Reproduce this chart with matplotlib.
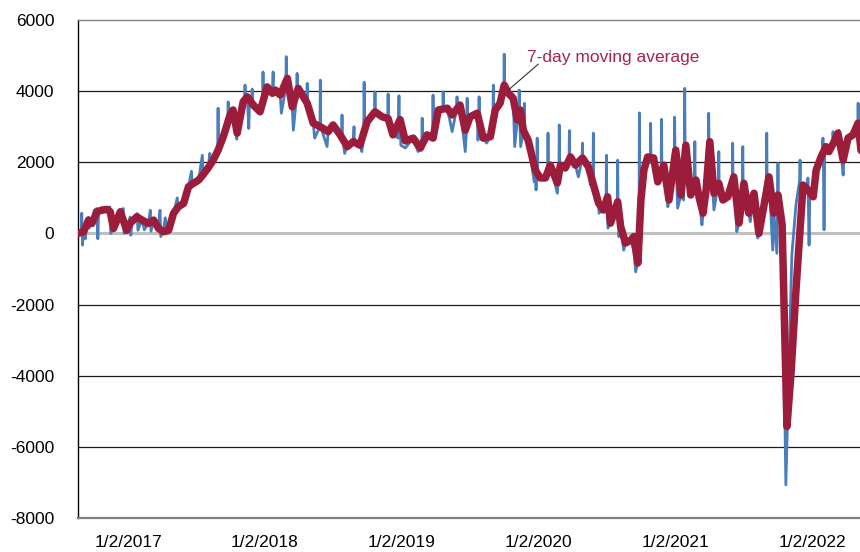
import matplotlib
matplotlib.use('Agg')
import matplotlib.pyplot as plt
import pandas as pd

# 7-day moving average
red_dates = [
    '2016-08-21', '2016-09-05', '2016-09-18', '2016-09-27', '2016-10-11', '2016-10-24',
    '2016-11-06', '2016-11-15', '2016-11-24', '2016-12-12', '2016-12-29',
    '2017-01-07', '2017-01-25', '2017-02-08', '2017-02-25', '2017-03-11', '2017-03-24',
    '2017-04-06', '2017-04-20', '2017-05-03', '2017-05-16', '2017-05-30', '2017-06-12',
    '2017-06-25', '2017-07-09', '2017-07-21', '2017-08-04', '2017-08-17', '2017-08-30',
    '2017-09-13', '2017-10-01', '2017-10-09', '2017-10-20', '2017-11-05', '2017-11-16',
    '2017-12-02', '2017-12-20',
    '2018-01-08', '2018-01-22', '2018-01-30', '2018-02-12', '2018-03-03', '2018-03-16',
    '2018-04-01', '2018-04-25', '2018-05-11', '2018-05-30', '2018-06-20', '2018-07-03',
    '2018-07-22', '2018-08-10', '2018-08-26', '2018-09-13', '2018-10-02', '2018-10-23',
    '2018-11-11', '2018-11-27', '2018-12-10', '2018-12-29',
    '2019-01-12', '2019-02-02', '2019-02-21', '2019-03-11', '2019-03-27', '2019-04-10',
    '2019-05-04', '2019-05-17', '2019-06-07', '2019-06-21', '2019-07-04', '2019-07-23',
    '2019-08-08', '2019-08-27', '2019-09-09', '2019-09-22', '2019-10-03', '2019-10-14',
    '2019-10-27', '2019-11-07', '2019-11-15', '2019-11-23', '2019-12-06', '2019-12-25',
    '2020-01-07', '2020-01-21', '2020-02-03', '2020-02-22', '2020-03-01', '2020-03-14',
    '2020-03-28', '2020-04-10', '2020-04-29', '2020-05-15', '2020-05-26', '2020-06-11',
    '2020-06-24', '2020-07-05', '2020-07-13', '2020-08-01', '2020-08-09', '2020-08-22',
    '2020-09-05', '2020-09-13', '2020-09-24', '2020-10-02', '2020-10-10', '2020-10-20',
    '2020-11-05', '2020-11-16', '2020-12-02', '2020-12-16',
    '2021-01-03', '2021-01-17', '2021-01-30', '2021-02-12', '2021-02-26', '2021-03-06',
    '2021-03-17', '2021-03-25', '2021-04-04', '2021-04-15', '2021-04-28', '2021-05-09',
    '2021-05-22', '2021-06-07', '2021-06-21', '2021-07-04', '2021-07-17', '2021-07-31',
    '2021-08-13', '2021-08-26', '2021-09-09', '2021-09-22', '2021-10-03', '2021-10-14',
    '2021-10-27', '2021-11-07', '2021-11-20', '2021-12-01', '2021-12-09', '2021-12-22',
    '2022-01-05', '2022-01-13', '2022-01-26', '2022-02-08', '2022-02-16', '2022-03-02',
    '2022-03-12', '2022-03-26', '2022-04-08', '2022-04-21', '2022-05-05', '2022-05-13',
]
red_values = [
    0, 50, 375, 280, 610, 656,
    675, 610, 140, 609, 90,
    281, 469, 375, 281, 375, 141,
    47, 90, 563, 750, 843, 1313,
    1407, 1500, 1650, 1850, 2060, 2340,
    2720, 3330, 3470, 2820, 3700, 3840,
    3610, 3420,
    4120, 3940, 4030, 3890, 4360, 3560,
    4080, 3660, 3100, 3000, 2860, 3050,
    2770, 2440, 2580, 2480, 3140, 3420,
    3280, 3230, 2770, 3200,
    2600, 2680, 2400, 2770, 2680, 3470,
    3520, 3330, 3610, 2900, 3280, 3380,
    2680, 2720, 3470, 3660, 4170, 3940,
    3800, 3190, 3470, 2900, 2620, 1780,
    1560, 1560, 1920, 1420, 1920, 1840,
    2150, 1920, 2120, 1870, 1450, 850,
    660, 1030, 290, 890, 190, -270,
    -190, -90, -830, 940, 1780, 2150,
    2120, 1450, 1920, 940,
    2340, 1080, 2480, 1080, 1500, 1030,
    570, 1220, 2580, 1130, 1410, 940,
    1030, 1590, 290, 1410, 570, 1130,
    0, 750, 1590, 570, 1080, 250,
    -5430, -3900, -1600, 100, 1360, 1220,
    1030, 1780, 2150, 2440, 2300, 2580,
    2820, 2060, 2680, 2770, 3100, 2300,
]

# daily values
blue_dates = [
    '2016-08-21', '2016-08-30', '2016-08-31', '2016-09-02', '2016-09-05', '2016-09-10',
    '2016-09-12', '2016-09-18', '2016-09-20', '2016-09-27', '2016-10-03', '2016-10-10',
    '2016-10-13', '2016-10-15', '2016-10-24', '2016-11-06', '2016-11-14', '2016-11-17',
    '2016-11-20', '2016-11-24', '2016-12-01', '2016-12-12', '2016-12-20', '2016-12-22',
    '2016-12-29',
    '2017-01-07', '2017-01-09', '2017-01-12', '2017-01-25', '2017-01-26', '2017-01-28',
    '2017-02-08', '2017-02-14', '2017-02-25', '2017-03-02', '2017-03-04', '2017-03-11',
    '2017-03-24', '2017-03-28', '2017-03-30', '2017-04-06', '2017-04-11', '2017-04-13',
    '2017-04-20', '2017-05-03', '2017-05-13', '2017-05-16', '2017-05-30', '2017-06-12',
    '2017-06-20', '2017-06-22', '2017-06-25', '2017-07-09', '2017-07-19', '2017-07-21',
    '2017-08-04', '2017-08-08', '2017-08-10', '2017-08-17', '2017-08-29', '2017-08-30',
    '2017-08-31', '2017-09-13', '2017-09-25', '2017-09-26', '2017-09-27', '2017-10-01',
    '2017-10-09', '2017-10-19', '2017-10-20', '2017-11-05', '2017-11-09', '2017-11-10',
    '2017-11-11', '2017-11-16', '2017-11-20', '2017-11-22', '2017-11-28', '2017-11-29',
    '2017-11-30', '2017-12-02', '2017-12-20', '2017-12-27', '2017-12-28', '2017-12-29',
    '2018-01-08', '2018-01-22', '2018-01-24', '2018-01-25', '2018-01-30', '2018-02-12',
    '2018-02-15', '2018-02-27', '2018-02-28', '2018-03-01', '2018-03-03', '2018-03-16',
    '2018-03-19', '2018-03-28', '2018-03-29', '2018-03-30', '2018-04-01', '2018-04-24',
    '2018-04-25', '2018-04-26', '2018-05-11', '2018-05-15', '2018-05-29', '2018-05-30',
    '2018-05-31', '2018-06-17', '2018-06-20', '2018-07-03', '2018-07-22', '2018-07-26',
    '2018-07-27', '2018-07-28', '2018-08-03', '2018-08-10', '2018-08-26', '2018-08-28',
    '2018-08-29', '2018-09-13', '2018-09-18', '2018-09-23', '2018-09-24', '2018-09-25',
    '2018-10-02', '2018-10-22', '2018-10-23', '2018-10-24', '2018-11-11', '2018-11-26',
    '2018-11-27', '2018-11-28', '2018-12-10', '2018-12-24', '2018-12-26', '2018-12-27',
    '2018-12-29', '2018-12-31',
    '2019-01-12', '2019-02-02', '2019-02-15', '2019-02-21', '2019-02-25', '2019-02-26',
    '2019-02-27', '2019-03-11', '2019-03-26', '2019-03-27', '2019-03-28', '2019-04-10',
    '2019-04-22', '2019-04-23', '2019-04-24', '2019-05-04', '2019-05-17', '2019-05-29',
    '2019-05-30', '2019-05-31', '2019-06-07', '2019-06-21', '2019-06-25', '2019-06-26',
    '2019-06-27', '2019-07-04', '2019-07-23', '2019-07-25', '2019-07-27', '2019-07-28',
    '2019-07-29', '2019-08-08', '2019-08-17', '2019-08-27', '2019-09-03', '2019-09-04',
    '2019-09-05', '2019-09-09', '2019-09-22', '2019-10-02', '2019-10-03', '2019-10-04',
    '2019-10-14', '2019-10-27', '2019-10-31', '2019-11-07', '2019-11-11', '2019-11-12',
    '2019-11-13', '2019-11-16', '2019-11-23', '2019-11-25', '2019-11-26', '2019-11-27',
    '2019-12-06', '2019-12-22', '2019-12-25', '2019-12-27', '2019-12-29', '2019-12-30',
    '2019-12-31',
    '2020-01-07', '2020-01-21', '2020-01-27', '2020-01-28', '2020-01-29', '2020-02-03',
    '2020-02-22', '2020-02-26', '2020-02-27', '2020-02-28', '2020-03-01', '2020-03-14',
    '2020-03-24', '2020-03-25', '2020-03-26', '2020-03-28', '2020-04-10', '2020-04-18',
    '2020-04-28', '2020-04-29', '2020-04-30', '2020-05-15', '2020-05-20', '2020-05-26',
    '2020-05-27', '2020-05-28', '2020-05-29', '2020-06-11', '2020-06-12', '2020-06-24',
    '2020-07-01', '2020-07-02', '2020-07-03', '2020-07-06', '2020-07-13', '2020-07-31',
    '2020-08-01', '2020-08-02', '2020-08-04', '2020-08-09', '2020-08-17', '2020-08-22',
    '2020-09-05', '2020-09-13', '2020-09-18', '2020-09-24', '2020-09-27', '2020-09-28',
    '2020-09-29', '2020-10-02', '2020-10-10', '2020-10-20', '2020-10-27', '2020-10-28',
    '2020-10-29', '2020-11-05', '2020-11-16', '2020-11-25', '2020-11-26', '2020-11-27',
    '2020-12-02', '2020-12-13', '2020-12-16', '2020-12-30', '2020-12-31',
    '2021-01-01', '2021-01-03', '2021-01-08', '2021-01-17', '2021-01-24', '2021-01-26',
    '2021-01-27', '2021-01-28', '2021-01-30', '2021-02-12', '2021-02-22', '2021-02-23',
    '2021-02-24', '2021-02-26', '2021-03-06', '2021-03-14', '2021-03-17', '2021-03-25',
    '2021-03-31', '2021-04-01', '2021-04-02', '2021-04-04', '2021-04-15', '2021-04-27',
    '2021-04-28', '2021-04-29', '2021-05-09', '2021-05-22', '2021-06-03', '2021-06-04',
    '2021-06-05', '2021-06-07', '2021-06-15', '2021-06-21', '2021-06-30', '2021-07-01',
    '2021-07-02', '2021-07-04', '2021-07-21', '2021-07-31', '2021-08-10', '2021-08-13',
    '2021-08-26', '2021-09-02', '2021-09-03', '2021-09-04', '2021-09-09', '2021-09-19',
    '2021-09-22', '2021-09-30', '2021-10-02', '2021-10-03', '2021-10-04', '2021-10-14',
    '2021-10-15', '2021-10-24', '2021-11-09', '2021-11-20', '2021-11-30', '2021-12-01',
    '2021-12-02', '2021-12-09', '2021-12-21', '2021-12-22', '2021-12-25', '2021-12-27',
    '2022-01-05', '2022-01-13', '2022-01-26', '2022-01-30', '2022-01-31', '2022-02-01',
    '2022-02-03', '2022-02-05', '2022-02-08', '2022-02-16', '2022-02-26', '2022-02-27',
    '2022-02-28', '2022-03-02', '2022-03-12', '2022-03-15', '2022-03-26', '2022-03-28',
    '2022-04-08', '2022-04-21', '2022-05-04', '2022-05-05', '2022-05-06', '2022-05-13',
]
blue_values = [
    0, 100, 570, -330, 100, -150,
    300, 450, 150, 300, 650, 700,
    -150, 600, 700, 650, 750, 0,
    400, 150, 450, 650, 700, 0,
    150,
    460, -50, 300, 450, 560, 90,
    400, 100, 300, 650, 60, 400,
    150, 650, -90, 100, 440, 0,
    100, 550, 1000, 700, 850, 1300,
    1750, 1350, 1400, 1500, 2200, 1650,
    1850, 2250, 1900, 2060, 2300, 3520,
    2350, 2720, 3200, 3700, 3100, 3330,
    3470, 2650, 2820, 3700, 3750, 4170,
    3700, 3840, 2950, 3700, 3600, 4060,
    3600, 3610, 3420, 3700, 4540, 3800,
    4120, 3940, 4540, 3950, 4030, 3890,
    3380, 4100, 4970, 4200, 4360, 3560,
    2900, 3900, 4500, 4000, 4080, 3700,
    4220, 3600, 3100, 2680, 3000, 4310,
    3000, 2440, 2860, 3050, 2770, 2800,
    3330, 2700, 2250, 2440, 2580, 3000,
    2550, 2480, 2300, 3000, 4250, 3000,
    3140, 3400, 3980, 3400, 3280, 3230,
    3920, 3200, 2770, 2680, 3870, 3100,
    3200, 2480,
    2400, 2680, 2300, 2400, 2500, 3240,
    2500, 2770, 2700, 3890, 2800, 3470,
    3500, 3980, 3500, 3520, 2860, 3500,
    3840, 3500, 3610, 2300, 3000, 3800,
    3100, 3280, 3380, 2620, 3200, 3840,
    3000, 2680, 2540, 2720, 3300, 4170,
    3400, 3470, 3660, 4000, 5040, 4100,
    3940, 3800, 2440, 3190, 3400, 4030,
    3300, 2440, 2900, 2800, 3660, 2700,
    2620, 1450, 1780, 1220, 1700, 2680,
    1600,
    1560, 1560, 1700, 2820, 1800, 1920,
    1130, 1800, 3050, 1800, 1920, 1840,
    2000, 2890, 2100, 2150, 1920, 1590,
    2100, 2540, 2000, 1870, 1360, 1450,
    1400, 2820, 1300, 850, 570, 660,
    900, 2200, 900, 150, 290, 800,
    2060, 700, -90, 190, -470, -270,
    -190, -470, -1080, -830, 500, 3390,
    1500, 1700, 1780, 2150, 2000, 3100,
    2000, 2120, 1450, 1800, 3210, 1800,
    1920, 750, 940, 2200, 3270,
    2300, 2340, 710, 1080, 940, 2300,
    4080, 2400, 2480, 1080, 1600, 2580,
    1500, 1500, 1030, 240, 570, 1220,
    2400, 3380, 2500, 2580, 660, 1400,
    2300, 1400, 940, 1030, 1500, 2540,
    1500, 1590, 50, 290, 1300, 2440,
    1300, 1410, 330, 1130, -130, 0,
    750, 1500, 2820, 1500, 1590, -470,
    570, -560, 1000, 1970, 1000, 250,
    -500, -7070, -610, 800, 1500, 2060,
    1200, 1360, 1300, 1560, -330, 1100,
    1030, 1780, 2150, 2300, 2680, 2300,
    100, 2400, 2440, 2300, 2500, 2860,
    2500, 2580, 2820, 2900, 1640, 2100,
    2680, 2770, 3000, 3660, 3000, 2300,
]

tick_dates = ['2017-01-02', '2018-01-02', '2019-01-02', '2020-01-02', '2021-01-02', '2022-01-02']
tick_labels = ['1/2/2017', '1/2/2018', '1/2/2019', '1/2/2020', '1/2/2021', '1/2/2022']
y_ticks = [-8000, -6000, -4000, -2000, 0, 2000, 4000, 6000]

assert len(red_dates) == len(red_values)
assert len(blue_dates) == len(blue_values)

red = pd.Series(red_values, index=pd.to_datetime(red_dates)).sort_index()
blue = pd.Series(blue_values, index=pd.to_datetime(blue_dates)).sort_index()

plt.rcParams['font.family'] = ['Liberation Sans', 'DejaVu Sans']

fig = plt.figure(figsize=(8.6, 5.52), dpi=100)
ax = fig.add_axes([78 / 860, 34 / 552, 782 / 860, 498 / 552])

for y in y_ticks:
    if y == 0:
        ax.axhline(y, color='#c0c0c0', lw=2.2, zorder=1)
    elif y in (-8000, 6000):
        continue
    else:
        ax.axhline(y, color='#1a1a1a', lw=0.9, zorder=1)

ax.plot(blue.index, blue.values, color='#4a7ebb', lw=2.0, zorder=2)
ax.plot(red.index, red.values, color='#9c1c3c', lw=5.4, zorder=3,
        solid_joinstyle='round', solid_capstyle='round')

ax.set_xlim(pd.Timestamp('2016-08-21'), pd.Timestamp('2022-05-10'))
ax.set_ylim(-8000, 6000)
ax.set_yticks(y_ticks)
ax.set_yticklabels([str(v) for v in y_ticks])
ax.set_xticks(pd.to_datetime(tick_dates))
ax.set_xticklabels(tick_labels)
ax.tick_params(axis='y', length=0, pad=17, labelsize=12.5)
ax.tick_params(axis='x', length=0, pad=12, labelsize=12.5)

ax.spines['right'].set_visible(False)
ax.spines['top'].set_color('#808080')
ax.spines['top'].set_linewidth(1.0)
ax.spines['bottom'].set_color('#808080')
ax.spines['bottom'].set_linewidth(1.6)
ax.spines['left'].set_color('black')
ax.spines['left'].set_linewidth(1.0)

peak = pd.Timestamp('2019-10-14')
ax.annotate('', xy=(peak, 4030), xytext=(30, 26), textcoords='offset pixels',
            arrowprops=dict(arrowstyle='-', color='#333333', lw=0.8,
                            shrinkA=0, shrinkB=0), zorder=4)
ax.annotate('7-day moving average', xy=(peak, 4030), xytext=(19, 33),
            textcoords='offset pixels', color='#a8234a', fontsize=12.5,
            ha='left', va='center', zorder=4)

fig.savefig('out.png', dpi=100)
